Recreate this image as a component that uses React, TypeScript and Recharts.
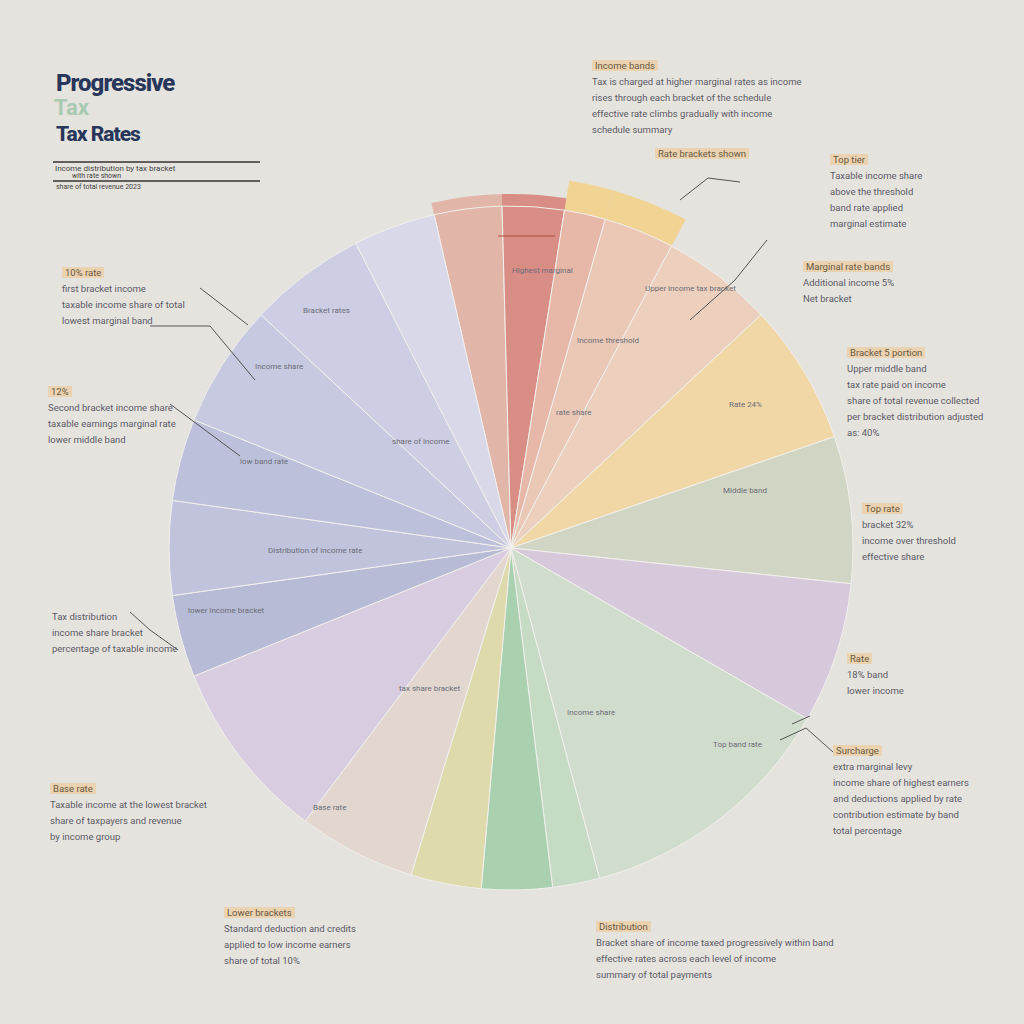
import { PieChart, Pie, Cell } from 'recharts';

// slice order runs clockwise, starting just left of 12 o'clock
const brackets = [
  'B1', 'B2', 'B3', 'B4', 'B5', 'B6', 'B7', 'B8', 'B9', 'B10',
  'B11', 'B12', 'B13', 'B14', 'B15', 'B16', 'B17', 'B18', 'B19', 'B20',
];
const shares = [11.5, 10.5, 7, 12, 19, 24, 25, 24, 45, 8, 12, 12, 20, 31, 14, 16, 14, 21, 20, 14];
const colors = [
  '#e1b6a9', '#d98e85', '#e7b7a7', '#ebc8b6', '#ecd0bd', '#f2d7a6', '#d1d5c3', '#d6c9dc',
  '#d1ddcc', '#c6dbc3', '#a9d1af', '#dedaab', '#e2d6cf', '#d7cce0', '#b8bbd5', '#c0c3db',
  '#bcc0da', '#c6c9df', '#cdcee3', '#d8d8e9',
];
const redLift = ['B1', 'B2'];
const orangeLift = ['B3', 'B4'];

const data = brackets.map((name, i) => ({ name, value: shares[i] }));

const notes = [
  { x: 592, y: 58, head: 'Income bands', lines: ['Tax is charged at higher marginal rates as income', 'rises through each bracket of the schedule', 'effective rate climbs gradually with income', 'schedule summary'] },
  { x: 655, y: 146, head: 'Rate brackets shown', lines: [] },
  { x: 830, y: 152, head: 'Top tier', lines: ['Taxable income share', 'above the threshold', 'band rate applied', 'marginal estimate'] },
  { x: 803, y: 259, head: 'Marginal rate bands', lines: ['Additional income 5%', 'Net bracket'] },
  { x: 847, y: 345, head: 'Bracket 5 portion', lines: ['Upper middle band', 'tax rate paid on income', 'share of total revenue collected', 'per bracket distribution adjusted', '  as: 40%'] },
  { x: 862, y: 501, head: 'Top rate', lines: ['bracket 32%', 'income over threshold', 'effective share'] },
  { x: 847, y: 651, head: 'Rate', lines: ['18% band', 'lower income'] },
  { x: 833, y: 743, head: 'Surcharge', lines: ['extra marginal levy', 'income share of highest earners', 'and deductions applied by rate', 'contribution estimate by band', 'total percentage'] },
  { x: 596, y: 919, head: 'Distribution', lines: ['Bracket share of income taxed progressively within band', 'effective rates across each level of income', 'summary of total payments'] },
  { x: 224, y: 905, head: 'Lower brackets', lines: ['Standard deduction and credits', 'applied to low income earners', 'share of total 10%'] },
  { x: 50, y: 781, head: 'Base rate', lines: ['Taxable income at the lowest bracket', 'share of taxpayers and revenue', 'by income group'] },
  { x: 52, y: 609, head: '', lines: ['Tax distribution', 'income share bracket', 'percentage of taxable income'] },
  { x: 48, y: 384, head: '12%', lines: ['Second bracket income share', 'taxable earnings marginal rate', 'lower middle band'] },
  { x: 62, y: 265, head: '10% rate', lines: ['first bracket income', 'taxable income share of total', 'lowest marginal band'] },
];

const inner = [
  { x: 303, y: 306, t: 'Bracket rates' },
  { x: 255, y: 362, t: 'Income share' },
  { x: 240, y: 457, t: 'low band rate' },
  { x: 392, y: 437, t: 'share of income' },
  { x: 268, y: 546, t: 'Distribution of income rate' },
  { x: 188, y: 606, t: 'lower income bracket' },
  { x: 512, y: 266, t: 'Highest marginal' },
  { x: 645, y: 284, t: 'Upper income tax bracket' },
  { x: 577, y: 336, t: 'Income threshold' },
  { x: 556, y: 408, t: 'rate share' },
  { x: 729, y: 400, t: 'Rate 24%' },
  { x: 723, y: 486, t: 'Middle band' },
  { x: 399, y: 684, t: 'tax share bracket' },
  { x: 567, y: 708, t: 'Income share' },
  { x: 713, y: 740, t: 'Top band rate' },
  { x: 313, y: 803, t: 'Base rate' },
];

export default function App() {
  return (
    <div style={{ position: 'absolute', left: 0, top: 0, width: 1024, height: 1024, background: '#e5e3de', fontFamily: 'Roboto, sans-serif', overflow: 'hidden' }}>
      <PieChart width={1024} height={1024} margin={{ top: 0, right: 0, bottom: 0, left: 0 }}>
        <Pie data={data} dataKey="value" cx={511} cy={548} outerRadius={372} startAngle={103} endAngle={-257} stroke="none" isAnimationActive={false}>
          {data.map((d) => (
            <Cell key={d.name} fill={orangeLift.includes(d.name) ? '#f1d394' : 'transparent'} />
          ))}
        </Pie>
        <Pie data={data} dataKey="value" cx={511} cy={548} outerRadius={354} startAngle={103} endAngle={-257} stroke="none" isAnimationActive={false}>
          {data.map((d, i) => (
            <Cell key={d.name} fill={redLift.includes(d.name) ? colors[i] : 'transparent'} />
          ))}
        </Pie>
        <Pie data={data} dataKey="value" cx={511} cy={548} outerRadius={342} startAngle={103} endAngle={-257} stroke="#f1efec" strokeWidth={1} isAnimationActive={false}>
          {data.map((d, i) => (
            <Cell key={d.name} fill={colors[i]} />
          ))}
        </Pie>
      </PieChart>

      <svg width={1024} height={1024} style={{ position: 'absolute', left: 0, top: 0, pointerEvents: 'none' }}>
        <g stroke="#555" strokeWidth={1} fill="none">
          <polyline points="200,288 248,325" />
          <polyline points="150,326 210,326 255,380" />
          <polyline points="170,404 240,456" />
          <polyline points="130,612 150,630 178,650" />
          <polyline points="690,320 735,280 767,240" />
          <polyline points="740,182 708,178 680,200" />
          <polyline points="498,236 555,236" stroke="#b04a40" />
          <polyline points="833,752 806,728 780,740" />
          <polyline points="810,716 792,724" />
        </g>
        <line x1={53} y1={162} x2={260} y2={162} stroke="#333" strokeWidth={1.5} />
        <line x1={53} y1={181} x2={260} y2={181} stroke="#333" strokeWidth={1.5} />
      </svg>

      <div style={{ position: 'absolute', left: 56, top: 70, color: '#27365a', fontWeight: 800, fontSize: 24, lineHeight: '26px', letterSpacing: -1 }}>Progressive</div>
      <div style={{ position: 'absolute', left: 54, top: 97, color: '#8fbfa0', opacity: 0.7, fontWeight: 700, fontSize: 22, lineHeight: '22px' }}>Tax</div>
      <div style={{ position: 'absolute', left: 56, top: 123, color: '#27365a', fontWeight: 800, fontSize: 21, lineHeight: '22px', letterSpacing: -1 }}>Tax Rates</div>
      <div style={{ position: 'absolute', left: 55, top: 164, color: '#444', fontSize: 8 }}>Income distribution by tax bracket</div>
      <div style={{ position: 'absolute', left: 72, top: 172, color: '#444', fontSize: 7 }}>with rate shown</div>
      <div style={{ position: 'absolute', left: 56, top: 183, color: '#444', fontSize: 7 }}>share of total revenue 2023</div>

      {notes.map((n) => (
        <div key={n.x + '-' + n.y} style={{ position: 'absolute', left: n.x, top: n.y, fontSize: 9.5, lineHeight: '16px', color: '#5b5b66', whiteSpace: 'nowrap' }}>
          {n.head && (
            <div><span style={{ background: 'rgba(240,196,140,0.55)', color: '#6a5a40', padding: '0 3px' }}>{n.head}</span></div>
          )}
          {n.lines.map((l) => (
            <div key={l}>{l}</div>
          ))}
        </div>
      ))}

      {inner.map((t) => (
        <div key={t.t + t.x} style={{ position: 'absolute', left: t.x, top: t.y, fontSize: 8, color: '#6c6c78', whiteSpace: 'nowrap' }}>{t.t}</div>
      ))}
    </div>
  );
}
